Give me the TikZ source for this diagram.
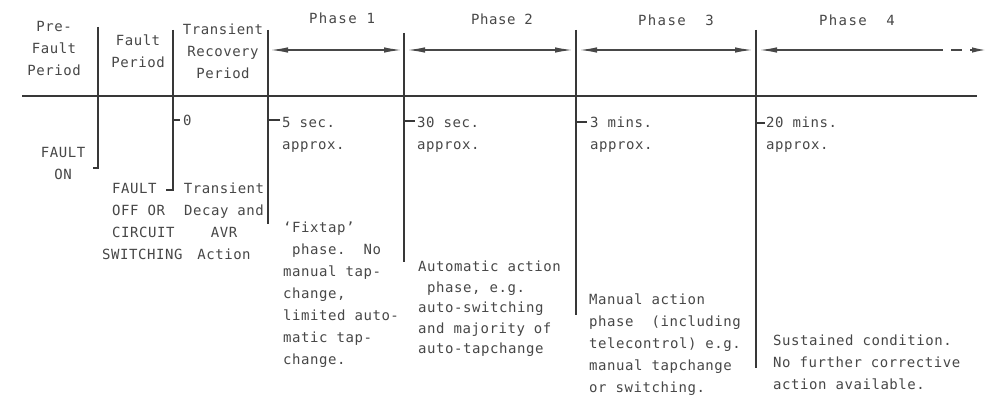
\documentclass[tikz,border=0pt]{standalone}
\usepackage{fontspec}
\usetikzlibrary{arrows.meta}
\newfontfamily\twfont{DejaVu Sans Mono}[LetterSpace=4,Ligatures=TeX]
\newfontfamily\phfont{DejaVu Sans Mono}[LetterSpace=10]
\begin{document}
\begin{tikzpicture}[x=1pt,y=-1pt,
  txt/.style={font=\twfont\fontsize{14}{22}\selectfont, text=black!72, inner sep=0pt},
  blk/.style={txt, align=left, anchor=north west},
  ctr/.style={txt, align=center, anchor=north},
  phlab/.style={font=\phfont\fontsize{14}{22}\selectfont, text=black!72, inner sep=0pt, anchor=center},
  rule/.style={draw=black!78, line width=1.6pt},
  mainrule/.style={draw=black!78, line width=2.6pt},
  tick/.style={draw=black!78, line width=2pt},
  span/.style={draw=black!72, line width=1.6pt, {Latex[length=18pt,width=5.5pt]}-{Latex[length=18pt,width=5.5pt]}},
  spanl/.style={draw=black!72, line width=1.6pt, {Latex[length=18pt,width=5.5pt]}-},
  spanr/.style={draw=black!72, line width=1.6pt, -{Latex[length=14pt,width=5.5pt]}},
  dashseg/.style={draw=black!72, line width=1.6pt}
]
\useasboundingbox (0,0) rectangle (986,396);
\fill[white] (0,0) rectangle (986,396);

% vertical dividers
\coordinate (L0t) at (98,27);  \coordinate (L0b) at (98,168);  \coordinate (L0h) at (93,168);
\coordinate (L1t) at (173,30); \coordinate (L1b) at (173,190); \coordinate (L1h) at (166,190);
\coordinate (L2t) at (268,30); \coordinate (L2b) at (268,224);
\coordinate (L3t) at (404,33); \coordinate (L3b) at (404,262);
\coordinate (L4t) at (576,30); \coordinate (L4b) at (576,315);
\coordinate (L5t) at (756,30); \coordinate (L5b) at (756,368);
\draw[rule] (L0t) -- (L0b) -- (L0h);
\draw[rule] (L1t) -- (L1b) -- (L1h);
\draw[rule] (L2t) -- (L2b);
\draw[rule] (L3t) -- (L3b);
\draw[rule] (L4t) -- (L4b);
\draw[rule] (L5t) -- (L5b);

% main time axis
\coordinate (M0) at (22,96); \coordinate (M1) at (977,96);
\draw[mainrule] (M0) -- (M1);

% ticks
\coordinate (T1a) at (173,120); \coordinate (T1b) at (180,120);
\coordinate (T2a) at (268,120); \coordinate (T2b) at (280,120);
\coordinate (T3a) at (404,121); \coordinate (T3b) at (415,121);
\coordinate (T4a) at (576,122); \coordinate (T4b) at (587,122);
\coordinate (T5a) at (756,123); \coordinate (T5b) at (765,123);
\draw[tick] (T1a) -- (T1b);
\draw[tick] (T2a) -- (T2b);
\draw[tick] (T3a) -- (T3b);
\draw[tick] (T4a) -- (T4b);
\draw[tick] (T5a) -- (T5b);

% phase spans
\coordinate (P1l) at (270,50); \coordinate (P1r) at (402,50);
\coordinate (P2l) at (407,50); \coordinate (P2r) at (573,50);
\coordinate (P3l) at (579,50); \coordinate (P3r) at (753,50);
\coordinate (P4l) at (759,50); \coordinate (P4r) at (943,50);
\coordinate (D1) at (951,50);  \coordinate (D2) at (962,50);
\coordinate (D3) at (970,50);  \coordinate (D4) at (986,50);
\draw[span] (P1l) -- (P1r);
\draw[span] (P2l) -- (P2r);
\draw[span] (P3l) -- (P3r);
\draw[spanl] (P4l) -- (P4r);
\draw[dashseg] (D1) -- (D2);
\draw[spanr] (D3) -- (D4);

% headers
\node[ctr] (pre) at (54,21.5) {Pre-\\Fault\\Period};
\node[ctr] (fp) at (138,34.5) {Fault\\Period};
\node[ctr] (trp) at (223,23.5) {Transient\\Recovery\\Period};
\node[phlab] (ph1) at (342,18) {Phase 1};
\node[txt, anchor=center] (ph2) at (502,19) {Phase 2};
\node[phlab] (ph3) at (676,20) {Phase\ \ 3};
\node[phlab] (ph4) at (857,20) {Phase\ \ 4};

% time marks
\node[txt, anchor=west] (t0) at (183,120) {0};
\node[blk] (t5s) at (282,117) {5 sec.\\approx.};
\node[blk] (t30s) at (417,117) {30 sec.\\approx.};
\node[blk] (t3m) at (590,117) {3 mins.\\approx.};
\node[blk] (t20m) at (766,117) {20 mins.\\approx.};

% events and descriptions
\node[ctr] (fon) at (63,147) {FAULT\\ON};
\node[blk] (foff) at (112,183) {FAULT\\OFF OR\\CIRCUIT\\\hspace*{-10pt}SWITCHING};
\node[ctr] (tda) at (224,183) {Transient\\Decay and\\AVR\\Action};
\node[blk] (fix) at (283,222) {`Fixtap'\\\ phase.\ \ No\\manual tap-\\change,\\limited auto-\\matic tap-\\change.};
\node[blk, font=\twfont\fontsize{14}{20.5}\selectfont] (aut) at (418,261) {Automatic action\\\ phase, e.g.\\auto-switching\\and majority of\\auto-tapchange};
\node[blk] (man) at (589,294) {Manual action\\phase\ \ (including\\telecontrol) e.g.\\manual tapchange\\or switching.};
\node[blk] (sus) at (773,335) {Sustained condition.\\No further corrective\\action available.};
\end{tikzpicture}
\end{document}
